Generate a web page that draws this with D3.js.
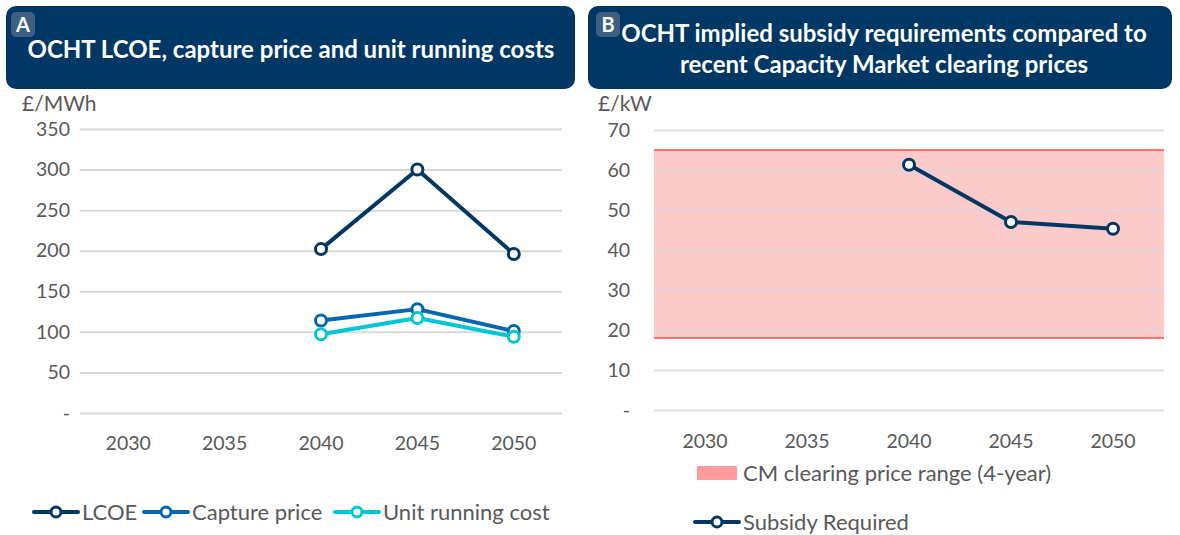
<!DOCTYPE html>
<html>
<head>
<meta charset="utf-8">
<script src="https://cdn.jsdelivr.net/npm/d3@7"></script>
<style>
  html, body { margin: 0; padding: 0; background: #fff; }
  svg { display: block; font-family: Lato, "Open Sans", sans-serif; }
</style>
</head>
<body>
<svg id="chart" width="1180" height="535"></svg>
<script>
// Years on the category axis
const years = ["2030", "2035", "2040", "2045", "2050"];

// Panel A series (£/MWh)
const lcoe = [null, null, 202, 300, 196];
const capturePrice = [null, null, 114, 128, 101];
const unitRunningCost = [null, null, 97, 117, 94];
const ticksA = [0, 50, 100, 150, 200, 250, 300, 350];

// Panel B series (£/kW)
const subsidyRequired = [null, null, 61.3, 47, 45.3];
const cmRangeLow = [18, 18, 18, 18, 18];
const cmRangeHigh = [65, 65, 65, 65, 65];
const ticksB = [0, 10, 20, 30, 40, 50, 60, 70];

const navy = "#003764";
const grey = "#595959";
const svg = d3.select("#chart");
const tickFmt = v => v === 0 ? "-" : String(v);

function titleBox(x, w, letter, badgeX, lines, lineYs, textX) {
  svg.append("rect").attr("x", x).attr("y", 6).attr("width", w).attr("height", 83)
    .attr("rx", 10).attr("fill", navy);
  svg.append("rect").attr("x", badgeX).attr("y", 12).attr("width", 24).attr("height", 25)
    .attr("rx", 5).attr("fill", "#3f5f80");
  svg.append("text").attr("x", badgeX + 12).attr("y", 32).attr("text-anchor", "middle")
    .attr("fill", "#fff").attr("font-weight", 700).attr("font-size", 20).text(letter);
  lines.forEach((t, i) => {
    svg.append("text").attr("x", textX).attr("y", lineYs[i]).attr("text-anchor", "middle")
      .attr("fill", "#fff").attr("font-weight", 700).attr("font-size", 24).text(t);
  });
}

function drawPanel(cfg) {
  const x = d3.scaleBand().domain(years).range(cfg.xRange);
  const y = d3.scaleLinear().domain(cfg.yDomain).range(cfg.yRange);
  const g = svg.append("g");

  if (cfg.band) {
    const area = d3.area()
      .x((d, i) => i === 0 ? cfg.xRange[0] : (i === years.length - 1 ? cfg.xRange[1] : x(years[i]) + x.bandwidth() / 2))
      .y0((d, i) => y(cfg.band.low[i]))
      .y1((d, i) => y(cfg.band.high[i]));
    g.append("path").datum(years).attr("d", area).attr("fill", "#fdcaca");
  }

  // gridlines + tick labels
  const yAxis = d3.axisLeft(y).tickValues(cfg.ticks).tickFormat(tickFmt)
    .tickSize(-(cfg.xRange[1] - cfg.xRange[0])).tickPadding(cfg.labelPad);
  const ya = g.append("g").attr("transform", `translate(${cfg.xRange[0]},0)`).call(yAxis);
  ya.select(".domain").remove();
  ya.selectAll(".tick line").attr("stroke", "#d9d9d9").attr("stroke-width", 2)
    .attr("stroke-opacity", cfg.band ? 0.85 : 1);
  ya.selectAll(".tick text").attr("fill", grey).attr("font-size", 19.5)
    .attr("font-family", "Lato, sans-serif");

  if (cfg.band) {
    [cfg.band.low, cfg.band.high].forEach(arr => {
      g.append("line").attr("x1", cfg.xRange[0]).attr("x2", cfg.xRange[1])
        .attr("y1", y(arr[0])).attr("y2", y(arr[0]))
        .attr("stroke", "#ff4b4b").attr("stroke-width", 1.3);
    });
  }

  const xAxis = d3.axisBottom(x).tickSize(0).tickPadding(0);
  const xa = g.append("g").attr("transform", `translate(0,${cfg.xLabelY})`).call(xAxis);
  xa.select(".domain").remove();
  xa.selectAll(".tick text").attr("fill", grey).attr("font-size", 19.5)
    .attr("font-family", "Lato, sans-serif").attr("dy", "0.35em");

  g.append("text").attr("x", cfg.unitX).attr("y", cfg.unitY).attr("fill", grey)
    .attr("font-size", 21).text(cfg.unit);

  const line = d3.line()
    .defined(d => d.v !== null)
    .x(d => x(d.year) + x.bandwidth() / 2)
    .y(d => y(d.v));

  cfg.series.forEach(s => {
    const pts = years.map((yr, i) => ({ year: yr, v: s.values[i] }));
    g.append("path").datum(pts).attr("d", line).attr("fill", "none")
      .attr("stroke", s.color).attr("stroke-width", 4).attr("stroke-linejoin", "round");
    g.selectAll(null).data(pts.filter(p => p.v !== null)).join("circle")
      .attr("cx", d => x(d.year) + x.bandwidth() / 2).attr("cy", d => y(d.v))
      .attr("r", 5.5).attr("fill", "#fff").attr("stroke", s.color).attr("stroke-width", 3);
  });
}

function legendLine(xs, cy, color, label) {
  svg.append("line").attr("x1", xs).attr("x2", xs + 44).attr("y1", cy).attr("y2", cy)
    .attr("stroke", color).attr("stroke-width", 4).attr("stroke-linecap", "round");
  svg.append("circle").attr("cx", xs + 22).attr("cy", cy).attr("r", 5)
    .attr("fill", "#fff").attr("stroke", color).attr("stroke-width", 3);
  svg.append("text").attr("x", xs + 48).attr("y", cy).attr("dy", "0.35em")
    .attr("fill", grey).attr("font-size", 22).text(label);
}

// Panel A
titleBox(6, 569, "A", 11, ["OCHT LCOE, capture price and unit running costs"], [57.5], 291);
drawPanel({
  xRange: [80, 562], yDomain: [0, 350], yRange: [413, 129],
  ticks: ticksA, labelPad: 10, xLabelY: 443,
  unit: "£/MWh", unitX: 22, unitY: 111,
  series: [
    { values: lcoe, color: navy },
    { values: capturePrice, color: "#0068b2" },
    { values: unitRunningCost, color: "#00c6d6" }
  ]
});
legendLine(34, 512, navy, "LCOE");
legendLine(144, 512, "#0068b2", "Capture price");
legendLine(335, 512, "#00c6d6", "Unit running cost");

// Panel B
titleBox(588, 584, "B", 596, ["OCHT implied subsidy requirements compared to", "recent Capacity Market clearing prices"], [41.5, 72.5], 884);
drawPanel({
  xRange: [654, 1164], yDomain: [0, 70], yRange: [410, 130],
  ticks: ticksB, labelPad: 24, xLabelY: 441,
  unit: "£/kW", unitX: 598, unitY: 111,
  band: { low: cmRangeLow, high: cmRangeHigh },
  series: [{ values: subsidyRequired, color: navy }]
});
svg.append("rect").attr("x", 697).attr("y", 466).attr("width", 40).attr("height", 14).attr("fill", "#ff9b9b");
svg.append("text").attr("x", 743).attr("y", 473).attr("dy", "0.35em").attr("fill", grey)
  .attr("font-size", 22).text("CM clearing price range (4-year)");
legendLine(695, 522, navy, "Subsidy Required");
</script>
</body>
</html>
